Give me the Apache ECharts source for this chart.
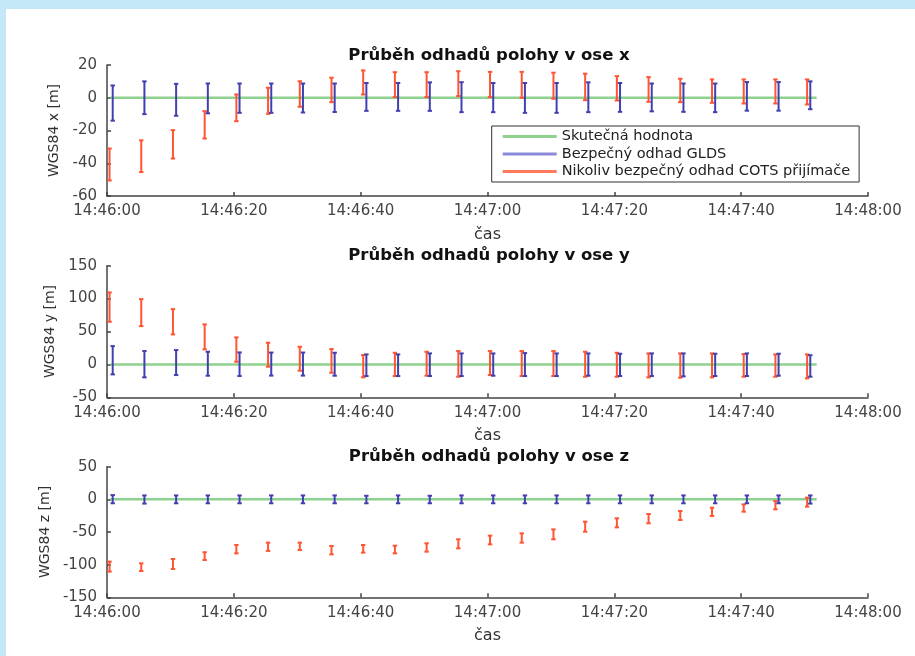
<!DOCTYPE html>
<html>
<head>
<meta charset="utf-8">
<script src="https://cdn.jsdelivr.net/npm/echarts@6/dist/echarts.min.js"></script>
<style>
  html, body { margin: 0; padding: 0; background: #c4e8f8; }
  #chart { position: absolute; left: 6px; top: 9px; width: 909px; height: 647px; background: #fff; }
</style>
</head>
<body>
<div id="chart"></div>
<script>
// časy v sekundách od 14:46:00
const xTickLabels = ['14:46:00', '14:46:20', '14:46:40', '14:47:00', '14:47:20', '14:47:40', '14:48:00'];
const gldsTimes = [0.9, 5.9, 10.9, 15.9, 20.9, 25.9, 30.9, 35.9, 40.9, 45.9, 50.9, 55.9,
                   60.9, 65.9, 70.9, 75.9, 80.9, 85.9, 90.9, 95.9, 100.9, 105.9, 110.9];
const cotsTimes = [0.4, 5.4, 10.4, 15.4, 20.4, 25.4, 30.4, 35.4, 40.4, 45.4, 50.4, 55.4,
                   60.4, 65.4, 70.4, 75.4, 80.4, 85.4, 90.4, 95.4, 100.4, 105.4, 110.4];
const truthTimes = [0.5, 111.9];
const truthValues = [0, 0];

const seriesNames = ['Skutečná hodnota', 'Bezpečný odhad GLDS', 'Nikoliv bezpečný odhad COTS přijímače'];
const axisNames = ['x', 'y', 'z'];

// [dolní, horní] mez
const xGlds = [[-14, 7.5], [-10, 10], [-11, 8.5], [-9.5, 8.7], [-9.2, 8.7], [-9.2, 8.7], [-9, 8.7], [-8.7, 8.7],
               [-8, 9], [-8, 9], [-8, 9.4], [-8.8, 9.5], [-8.8, 9], [-9.2, 9], [-9.2, 9], [-8.8, 9.4],
               [-8.6, 9], [-8.3, 8.7], [-8.6, 8.7], [-8.8, 8.7], [-7.9, 9.6], [-7.9, 9.6], [-7, 10]];
const xCots = [[-50.5, -31], [-45.4, -26], [-37.1, -19.8], [-24.9, -8.2], [-14.3, 2], [-9.8, 6.1], [-5.5, 10.1],
               [-2.7, 12.2], [2, 16.7], [0.4, 15.6], [0.4, 15.6], [1, 16.2], [0.4, 15.8], [0, 15.8],
               [-0.6, 15.3], [-1.5, 14.7], [-1.7, 13.2], [-2.5, 12.6], [-2.7, 11.6], [-3.1, 11.2],
               [-3.5, 11.2], [-3.5, 11.2], [-4.1, 11.2]];
const yGlds = [[-15.2, 27.8], [-19.7, 20.3], [-16.2, 21.8], [-17.2, 19.2], [-17.7, 18.2], [-17, 18], [-17, 18],
               [-17.2, 17.7], [-17.7, 15.2], [-17.7, 15.2], [-17.7, 16.7], [-17.7, 16.7], [-17.2, 16.7],
               [-17.7, 17.2], [-17.7, 16.7], [-17.2, 16.7], [-17.7, 16.2], [-17.7, 16.7], [-18.2, 16.7],
               [-17.7, 16.2], [-17.7, 16.7], [-17.2, 16.2], [-18.7, 14]];
const yCots = [[64.8, 109.4], [58.2, 99.2], [45.6, 84], [22.8, 60.8], [4, 41], [-3.5, 32.9], [-9.6, 26.8],
               [-12.7, 23.3], [-19.7, 14.2], [-17.7, 17.7], [-17.2, 19.2], [-18.7, 20.3], [-16.2, 20.3],
               [-17.7, 20.3], [-17.7, 20.3], [-18.7, 19.2], [-18.7, 17.7], [-19.7, 16.7], [-20.2, 16.7],
               [-19.7, 16.7], [-18.7, 15.7], [-18.7, 15.2], [-21.3, 15.2]];
const zGlds = [[-6, 6.5], [-6.5, 6], [-6, 6], [-6, 6], [-6, 6], [-6, 6], [-6, 6], [-6, 6], [-6, 5.5],
               [-6, 6], [-6, 5.5], [-6, 6], [-6, 6], [-6, 6], [-6, 6], [-6, 6], [-6, 6], [-6, 6],
               [-6, 6], [-6, 6], [-6, 6], [-6, 6], [-6.5, 6]];
const zCots = [[-110.7, -95.4], [-109.7, -98], [-106.6, -91.3], [-92.9, -81], [-82.7, -69.9], [-79, -66.3],
               [-77.6, -66.3], [-84.2, -71.4], [-81.6, -69.9], [-82.7, -71], [-80.1, -67.3], [-75, -61.2],
               [-68.9, -55.6], [-66.3, -52], [-61.2, -46], [-49.5, -34.2], [-42.9, -29], [-36.7, -22.4],
               [-31.6, -17.9], [-25.5, -12.8], [-18.9, -7.7], [-15.3, -2.6], [-11.2, 2.6]];

const yRanges = [[-60, 20, 20], [-50, 150, 50], [-150, 50, 50]];

const colors = { truth: '#8fd28f', glds: '#4040b0', cots: '#ff5533' };
const FONT = 'DejaVu Sans';

const grids = [
  { left: 101, top: 56, width: 761, height: 131 },
  { left: 101, top: 256.7, width: 761, height: 131.6 },
  { left: 101, top: 457.7, width: 761, height: 130.6 },
];
const titleTops = [38, 238, 439];
const yNameGaps = [42, 46, 51];

function errorBarItem(params, api) {
  const t = api.value(0);
  const lo = api.coord([t, api.value(1)]);
  const hi = api.coord([t, api.value(2)]);
  const half = 2.2;
  const style = { stroke: api.visual('color'), lineWidth: 2 };
  return {
    type: 'group',
    children: [
      { type: 'line', shape: { x1: lo[0], y1: lo[1], x2: hi[0], y2: hi[1] }, style },
      { type: 'line', shape: { x1: lo[0] - half, y1: lo[1], x2: lo[0] + half, y2: lo[1] }, style },
      { type: 'line', shape: { x1: hi[0] - half, y1: hi[1], x2: hi[0] + half, y2: hi[1] }, style },
    ],
  };
}

function bars(times, limits) {
  return times.map((t, i) => [t, limits[i][0], limits[i][1]]);
}

const gldsSets = [xGlds, yGlds, zGlds];
const cotsSets = [xCots, yCots, zCots];

const option = {
  animation: false,
  textStyle: { fontFamily: FONT },
  title: axisNames.map((a, i) => ({
    text: 'Průběh odhadů polohy v ose ' + a,
    left: 483, top: titleTops[i], textAlign: 'center', padding: 0,
    textStyle: { fontFamily: FONT, fontSize: 16.5, fontWeight: 'bold', color: '#111' },
  })),
  legend: {
    orient: 'vertical',
    left: 485.7, top: 117,
    padding: [3, 9, 3, 11],
    itemGap: 2.5,
    itemWidth: 54, itemHeight: 3,
    backgroundColor: '#fff',
    borderColor: '#333', borderWidth: 1,
    textStyle: { fontFamily: FONT, fontSize: 14.5, color: '#222' },
    data: [
      { name: seriesNames[0], icon: 'rect', itemStyle: { color: colors.truth } },
      { name: seriesNames[1], icon: 'rect', itemStyle: { color: '#8a8ad8' } },
      { name: seriesNames[2], icon: 'rect', itemStyle: { color: '#ff7a5c' } },
    ],
  },
  grid: grids,
  xAxis: grids.map((g, i) => ({
    type: 'value', gridIndex: i, min: 0, max: 120, interval: 20,
    name: 'čas', nameLocation: 'middle', nameGap: 31,
    nameTextStyle: { fontFamily: FONT, fontSize: 16, color: '#333' },
    axisLine: { onZero: false, lineStyle: { color: '#444', width: 1.5 } },
    axisTick: { inside: true, length: 4, lineStyle: { color: '#444', width: 1.5 } },
    axisLabel: { margin: 8, fontFamily: FONT, fontSize: 15, color: '#444',
                 formatter: (v) => xTickLabels[Math.round(v / 20)] },
    splitLine: { show: false },
  })),
  yAxis: grids.map((g, i) => ({
    type: 'value', gridIndex: i, min: yRanges[i][0], max: yRanges[i][1], interval: yRanges[i][2],
    name: 'WGS84 ' + axisNames[i] + ' [m]', nameLocation: 'middle', nameGap: yNameGaps[i],
    nameTextStyle: { fontFamily: FONT, fontSize: 14, color: '#333' },
    axisLine: { show: true, onZero: false, lineStyle: { color: '#444', width: 1.5 } },
    axisTick: { show: true, inside: true, length: 4, lineStyle: { color: '#444', width: 1.5 } },
    axisLabel: { margin: 10, fontFamily: FONT, fontSize: 15, color: '#444' },
    splitLine: { show: false },
  })),
  series: [],
};

axisNames.forEach((a, i) => {
  option.series.push({
    name: seriesNames[0], type: 'line', xAxisIndex: i, yAxisIndex: i,
    data: truthTimes.map((t, k) => [t, truthValues[k]]),
    showSymbol: false, z: 1,
    lineStyle: { color: colors.truth, width: 2.5 },
    itemStyle: { color: colors.truth },
  });
  option.series.push({
    name: seriesNames[2], type: 'custom', xAxisIndex: i, yAxisIndex: i,
    renderItem: errorBarItem, encode: { x: 0, y: [1, 2] }, z: 2,
    itemStyle: { color: colors.cots },
    data: bars(cotsTimes, cotsSets[i]),
  });
  option.series.push({
    name: seriesNames[1], type: 'custom', xAxisIndex: i, yAxisIndex: i,
    renderItem: errorBarItem, encode: { x: 0, y: [1, 2] }, z: 3,
    itemStyle: { color: colors.glds },
    data: bars(gldsTimes, gldsSets[i]),
  });
});

const chart = echarts.init(document.getElementById('chart'));
chart.setOption(option);
</script>
</body>
</html>
